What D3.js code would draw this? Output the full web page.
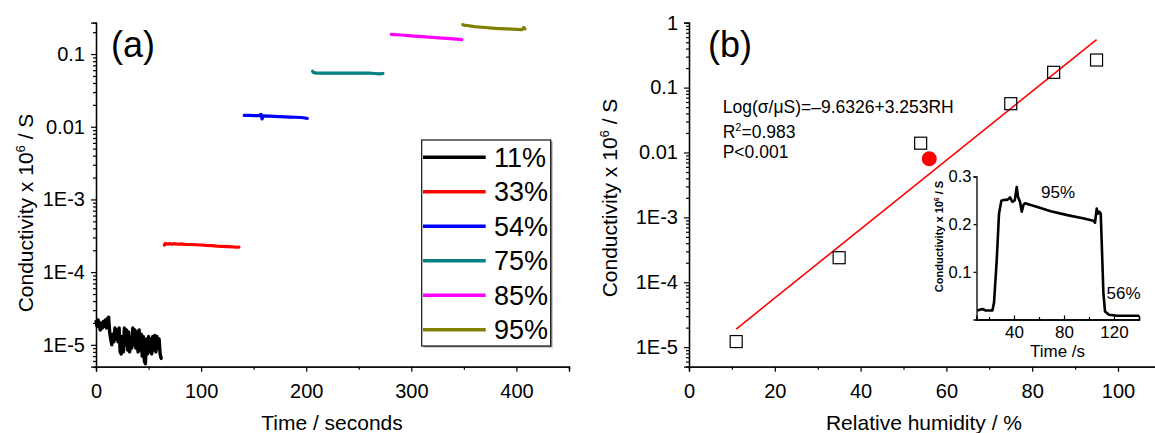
<!DOCTYPE html>
<html>
<head>
<meta charset="utf-8">
<script src="https://cdn.jsdelivr.net/npm/d3@7"></script>
<style>
html,body{margin:0;padding:0;background:#fff;}
svg{display:block;font-family:"Liberation Sans",Arial,sans-serif;}
</style>
</head>
<body>
<svg id="chart" width="1155" height="433"></svg>
<script>
// ---------- DATA ----------
// Panel (a): conductivity vs time at each humidity
const legendLabels = ["11%", "33%", "54%", "75%", "85%", "95%"];
const seriesColors = ["#000000", "#ff0000", "#0000ff", "#008080", "#ff00ff", "#808000"];

const t11 = [0,1,2,3,4,5,6,7,8,9,10,11,12,13,14,15,16,17,18,19,20,21,22,23,24,25,26,27,28,29,30,31,32,33,34,35,36,37,38,39,40,41,42,43,44,45,46,47,48,49,50,51,52,53,54,55,56,57,58,59,60,61,62];
const v11 = [2.1e-5,1.8e-5,2.2e-5,1.9e-5,1.6e-5,2.0e-5,1.7e-5,2.1e-5,1.8e-5,2.2e-5,1.7e-5,2.3e-5,2.4e-5,1.5e-5,1.2e-5,1.0e-5,1.4e-5,1.1e-5,1.7e-5,1.2e-5,1.6e-5,1.1e-5,1.7e-5,0.8e-5,0.75e-5,1.3e-5,0.8e-5,1.7e-5,1.0e-5,1.6e-5,0.85e-5,1.5e-5,0.8e-5,1.2e-5,0.9e-5,1.7e-5,1.0e-5,1.6e-5,0.9e-5,1.5e-5,0.8e-5,1.6e-5,0.85e-5,1.4e-5,0.7e-5,1.3e-5,0.6e-5,0.55e-5,1.2e-5,0.75e-5,1.3e-5,0.8e-5,1.2e-5,0.75e-5,1.3e-5,0.85e-5,1.35e-5,0.8e-5,1.3e-5,0.9e-5,1.2e-5,0.75e-5,0.65e-5];

const t33 = [65,66,68,70,72,75,78,80,85,90,95,100,105,110,115,120,125,130,134,136];
const v33 = [2.35e-4,2.48e-4,2.44e-4,2.47e-4,2.43e-4,2.46e-4,2.42e-4,2.44e-4,2.41e-4,2.40e-4,2.38e-4,2.36e-4,2.33e-4,2.31e-4,2.28e-4,2.26e-4,2.24e-4,2.22e-4,2.20e-4,2.21e-4];

const t54 = [141,145,150,155,157,158,159,165,170,175,180,185,190,195,199,201];
const v54 = [0.0143,0.0144,0.0142,0.0142,0.0148,0.0128,0.0141,0.0140,0.0139,0.0138,0.0137,0.0136,0.0135,0.0134,0.0132,0.0130];

const t75 = [206,207,210,220,230,240,250,260,265,270,273];
const v75 = [0.058,0.0555,0.0548,0.0546,0.0547,0.0547,0.0546,0.0545,0.0540,0.0535,0.0540];

const t85 = [281,290,300,310,320,330,340,348];
const v85 = [0.187,0.183,0.178,0.174,0.170,0.166,0.162,0.158];

const t95 = [349,350,355,360,370,380,390,400,405,406,407,408];
const v95 = [0.255,0.250,0.245,0.239,0.232,0.226,0.222,0.219,0.216,0.222,0.232,0.222];

const timeTicks = [0,100,200,300,400];
const logTicksA = [1e-5,1e-4,1e-3,0.01,0.1];
const logTickLabelsA = ["1E-5","1E-4","1E-3","0.01","0.1"];

// Panel (b): conductivity vs relative humidity
const rh = [11,35,54,75,85,95];
const condRH = [1.22e-5,2.39e-4,0.0139,0.0565,0.172,0.266];
const rhDot = [56];
const condDot = [0.0080];
const fitRH = [11,95];
const fitCond = [1.9e-5,0.55];
const rhTicks = [0,20,40,60,80,100];
const logTicksB = [1e-5,1e-4,1e-3,0.01,0.1,1];
const logTickLabelsB = ["1E-5","1E-4","1E-3","0.01","0.1","1"];
const eqLines = ["Log(σ/μS)=–9.6326+3.253RH", "R", "P<0.001"];

// Inset: 95% -> 56% response
const tInset = [10.7,14.7,17.4,22.7,24,26.2,28,29.9,32,34.7,36.8,38.7,40.6,42.2,43.2,44.8,46.2,47.5,48.8,58.7,69.4,82.7,96,103.5,104.8,106.2,107.2,108.3,109.4,110.2,111.5,112.8,116,122.7,140];
const vInset = [0.019,0.022,0.019,0.019,0.035,0.125,0.222,0.249,0.251,0.251,0.256,0.247,0.250,0.278,0.257,0.247,0.226,0.240,0.244,0.236,0.227,0.219,0.212,0.207,0.203,0.233,0.222,0.226,0.222,0.160,0.056,0.017,0.010,0.008,0.008];
const insetXTicks = [40,80,120];
const insetYTicks = [0.1,0.2,0.3];

// ---------- DRAW ----------
const svg = d3.select("#chart");
const FONT = '"Liberation Sans",Arial,sans-serif';

function styleAxis(g, fs) {
  g.select(".domain").attr("stroke", "#000").attr("stroke-width", 1.3);
  g.selectAll(".tick line").attr("stroke", "#000").attr("stroke-width", 1.2);
  g.selectAll(".tick text").attr("font-size", fs).attr("font-family", FONT).attr("fill", "#000");
}
function minorLog(domain) {
  const out = [];
  const lo = Math.floor(Math.log10(domain[0])), hi = Math.ceil(Math.log10(domain[1]));
  for (let e = lo; e <= hi; e++) for (let k = 2; k <= 9; k++) {
    const v = k * Math.pow(10, e);
    if (v >= domain[0] && v <= domain[1]) out.push(v);
  }
  return out;
}

// ===== Panel (a) =====
const xA = d3.scaleLinear().domain([0,450]).range([96,569]);
const yA = d3.scaleLog().domain([5e-6,0.27]).range([366.7,22.7]);

const gxAm = svg.append("g").attr("transform","translate(0,366.7)")
  .call(d3.axisBottom(xA).tickValues([50,150,250,350,450]).tickSize(3).tickFormat(""));
styleAxis(gxAm, 20);
const gxA = svg.append("g").attr("transform","translate(0,366.7)")
  .call(d3.axisBottom(xA).tickValues(timeTicks).tickSize(5).tickPadding(12).tickFormat(d3.format("d")));
styleAxis(gxA, 20);

const gyAm = svg.append("g").attr("transform","translate(96,0)")
  .call(d3.axisLeft(yA).tickValues(minorLog(yA.domain())).tickSize(3).tickFormat(""));
styleAxis(gyAm, 20);
const gyA = svg.append("g").attr("transform","translate(96,0)")
  .call(d3.axisLeft(yA).tickValues(logTicksA).tickSize(5).tickPadding(6)
    .tickFormat((d,i)=>logTickLabelsA[i]));
styleAxis(gyA, 20);

const seriesT = [t11,t33,t54,t75,t85,t95];
const seriesV = [v11,v33,v54,v75,v85,v95];
const lineA = d3.line().x(d=>xA(d[0])).y(d=>yA(d[1]));
seriesT.forEach((ts,i)=>{
  svg.append("path").datum(ts.map((t,j)=>[t,seriesV[i][j]]))
    .attr("d", lineA).attr("fill","none").attr("stroke", seriesColors[i])
    .attr("stroke-width", i===0?3.4:3.2).attr("stroke-linejoin","round").attr("stroke-linecap","round");
});

// legend
const lg = svg.append("g");
lg.append("rect").attr("x",423.5).attr("y",141.5).attr("width",129).attr("height",206).attr("fill","#999");
lg.append("rect").attr("x",421.7).attr("y",140).attr("width",129).attr("height",206)
  .attr("fill","#fff").attr("stroke","#111").attr("stroke-width",1.2);
legendLabels.forEach((lab,i)=>{
  const y = 157.3 + i*34.5;
  lg.append("line").attr("x1",423).attr("x2",485.7).attr("y1",y).attr("y2",y)
    .attr("stroke",seriesColors[i]).attr("stroke-width",3.5);
  lg.append("text").attr("x",494).attr("y",y+9.6).attr("font-size",27).attr("font-family",FONT).text(lab);
});

svg.append("text").attr("x",111).attr("y",57.4).attr("font-size",36).attr("font-family",FONT).text("(a)");

function yTitle(x, y, fs, weight) {
  const t = svg.append("text").attr("transform",`translate(${x},${y}) rotate(-90)`)
    .attr("text-anchor","middle").attr("font-size",fs).attr("font-family",FONT)
    .attr("font-weight",weight||"normal");
  t.append("tspan").text("Conductivity x 10");
  t.append("tspan").attr("dy",-fs*0.38).attr("font-size",fs*0.62).text("6");
  t.append("tspan").attr("dy",fs*0.38).text(" / S");
  return t;
}
yTitle(33, 213, 21);
svg.append("text").attr("x",332).attr("y",430).attr("text-anchor","middle")
  .attr("font-size",21).attr("font-family",FONT).text("Time / seconds");

// ===== Panel (b) =====
const xB = d3.scaleLinear().domain([0,110]).range([689,689+471.9]);
const yB = d3.scaleLog().domain([5e-6,1]).range([366.7,22.7]);

const gxBm = svg.append("g").attr("transform","translate(0,366.7)")
  .call(d3.axisBottom(xB).tickValues([10,30,50,70,90,110]).tickSize(3).tickFormat(""));
styleAxis(gxBm, 20);
const gxB = svg.append("g").attr("transform","translate(0,366.7)")
  .call(d3.axisBottom(xB).tickValues(rhTicks).tickSize(5).tickPadding(12).tickFormat(d3.format("d")));
styleAxis(gxB, 20);

const gyBm = svg.append("g").attr("transform","translate(689,0)")
  .call(d3.axisLeft(yB).tickValues(minorLog(yB.domain())).tickSize(3).tickFormat(""));
styleAxis(gyBm, 20);
const gyB = svg.append("g").attr("transform","translate(689,0)")
  .call(d3.axisLeft(yB).tickValues(logTicksB).tickSize(5).tickPadding(6)
    .tickFormat((d,i)=>logTickLabelsB[i]));
styleAxis(gyB, 20);

svg.append("path").datum(fitRH.map((r,i)=>[r,fitCond[i]]))
  .attr("d", d3.line().x(d=>xB(d[0])).y(d=>yB(d[1])))
  .attr("stroke","#ff0000").attr("stroke-width",1.6).attr("fill","none");

svg.append("g").selectAll("rect").data(rh.map((r,i)=>[r,condRH[i]])).join("rect")
  .attr("x",d=>xB(d[0])-6).attr("y",d=>yB(d[1])-6).attr("width",12).attr("height",12)
  .attr("fill","none").attr("stroke","#000").attr("stroke-width",1.2);

svg.append("g").selectAll("circle").data(rhDot.map((r,i)=>[r,condDot[i]])).join("circle")
  .attr("cx",d=>xB(d[0])).attr("cy",d=>yB(d[1])).attr("r",7.5).attr("fill","#ff0000");

svg.append("text").attr("x",708).attr("y",57.4).attr("font-size",36).attr("font-family",FONT).text("(b)");

const eq = svg.append("g").attr("font-family",FONT).attr("font-size",17.5);
eq.append("text").attr("x",722.7).attr("y",112.7).text(eqLines[0]);
const r2 = eq.append("text").attr("x",722.7).attr("y",137.7);
r2.append("tspan").text(eqLines[1]);
r2.append("tspan").attr("dy",-7).attr("font-size",11).text("2");
r2.append("tspan").attr("dy",7).text("=0.983");
eq.append("text").attr("x",722.7).attr("y",158.3).text(eqLines[2]);

yTitle(617, 198, 21);
svg.append("text").attr("x",924).attr("y",430).attr("text-anchor","middle")
  .attr("font-size",21).attr("font-family",FONT).text("Relative humidity / %");

// ===== Inset =====
const xI = d3.scaleLinear().domain([10,140]).range([976.5,1139]);
const yI = d3.scaleLinear().domain([0,0.3]).range([319.5,176.5]);

const gxIm = svg.append("g").attr("transform","translate(0,319.5)")
  .call(d3.axisBottom(xI).tickValues([20,60,100,140]).tickSize(-2.5).tickFormat(""));
styleAxis(gxIm, 16);
const gxI = svg.append("g").attr("transform","translate(0,319.5)")
  .call(d3.axisBottom(xI).tickValues(insetXTicks).tickSize(-4).tickPadding(6).tickFormat(d3.format("d")));
styleAxis(gxI, 17);
const gyI = svg.append("g").attr("transform","translate(976.5,0)")
  .call(d3.axisLeft(yI).tickValues(insetYTicks).tickSize(3).tickPadding(2).tickFormat(d3.format(".1f")));
styleAxis(gyI, 16.5);

svg.append("path").datum(tInset.map((t,i)=>[t,vInset[i]]))
  .attr("d", d3.line().x(d=>xI(d[0])).y(d=>yI(d[1])))
  .attr("fill","none").attr("stroke","#000").attr("stroke-width",2.6).attr("stroke-linejoin","round");

svg.append("text").attr("x",1058).attr("y",198).attr("text-anchor","middle")
  .attr("font-size",17).attr("font-family",FONT).text("95%");
svg.append("text").attr("x",1106.5).attr("y",298.5)
  .attr("font-size",17).attr("font-family",FONT).text("56%");
svg.append("text").attr("x",1057.5).attr("y",357).attr("text-anchor","middle")
  .attr("font-size",17).attr("font-family",FONT).text("Time /s");
yTitle(943, 236.5, 11, "bold");
</script>
</body>
</html>
